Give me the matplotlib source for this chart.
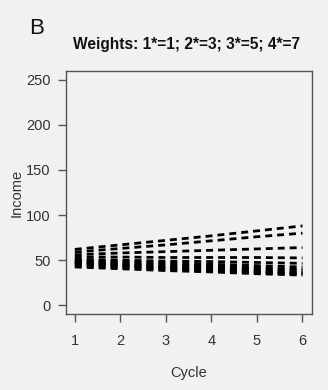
import matplotlib
matplotlib.use("Agg")
import matplotlib.pyplot as plt

plt.rcParams['font.family'] = ['Liberation Sans', 'DejaVu Sans']
plt.rcParams['lines.scale_dashes'] = False

cycles = [1, 2, 3, 4, 5, 6]
income = [
    [62.0, 67.0, 72.0, 77.0, 82.5, 88.0],
    [59.0, 63.0, 67.0, 71.5, 76.0, 80.0],
    [56.0, 58.0, 59.5, 61.0, 62.5, 64.0],
    [53.5, 53.5, 53.0, 53.0, 53.0, 52.5],
    [51.0, 50.0, 49.0, 48.5, 47.5, 46.5],
    [50.0, 48.5, 47.0, 45.5, 44.0, 42.5],
    [49.0, 47.0, 45.0, 43.5, 41.5, 40.0],
    [48.0, 45.5, 43.5, 41.5, 40.0, 38.5],
    [47.0, 44.5, 42.0, 40.0, 38.0, 36.5],
    [46.0, 43.5, 41.0, 39.0, 37.0, 35.5],
    [44.5, 42.0, 40.0, 38.0, 36.0, 34.5],
    [42.5, 40.5, 38.5, 37.0, 35.0, 33.5],
]
x_ticks = [1, 2, 3, 4, 5, 6]
y_ticks = [0, 50, 100, 150, 200, 250]

bg = '#f1f1f1'
axis_col = '#555555'
text_col = '#333333'

fig = plt.figure(figsize=(3.28, 3.90), dpi=100, facecolor=bg)
ax = fig.add_axes([0.2003, 0.194, 0.7497, 0.6247], facecolor=bg)

for series in income:
    ax.plot(cycles, series, color='black', linewidth=2.0,
            linestyle=(0, (5.0, 3.6)), solid_capstyle='butt',
            dash_capstyle='butt')

ax.set_xlim(0.8, 6.2)
ax.set_ylim(-10, 260)
ax.set_xticks(x_ticks)
ax.set_yticks(y_ticks)
ax.tick_params(axis='both', direction='out', length=5.8, width=1.0,
               color=axis_col, labelcolor=text_col, labelsize=10.5)
ax.tick_params(axis='x', pad=8.5)
ax.tick_params(axis='y', pad=5)
for sp in ax.spines.values():
    sp.set_color(axis_col)
    sp.set_linewidth(1.0)

ax.set_xlabel('Cycle', fontsize=10.5, color=text_col, labelpad=13)
ax.set_ylabel('Income', fontsize=10.5, color=text_col, labelpad=2)

fig.text(187 / 328, 1 - 44 / 390, 'Weights: 1*=1; 2*=3; 3*=5; 4*=7',
         ha='center', va='center', fontsize=11.2, fontweight='bold',
         color='#111111')
fig.text(29 / 328, 1 - 28 / 390, 'B', ha='left', va='center',
         fontsize=16, color='#111111')

fig.savefig('out.png', dpi=100, facecolor=bg)
